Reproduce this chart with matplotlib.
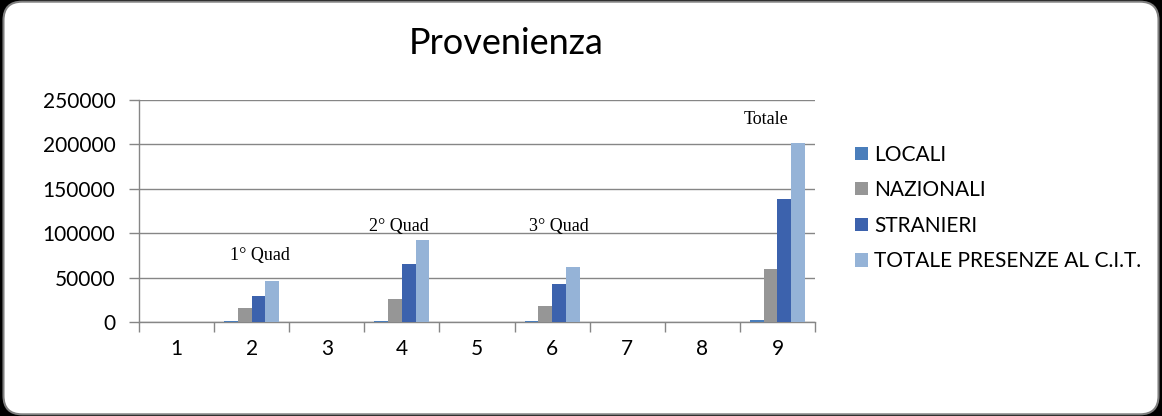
import matplotlib
matplotlib.use("Agg")
import matplotlib.pyplot as plt
import numpy as np
from matplotlib.patches import FancyBboxPatch
from matplotlib.ticker import FixedLocator, MultipleLocator

# categories along the x axis
CATEGORIES = ["1", "2", "3", "4", "5", "6", "7", "8", "9"]
# series values
LOCALI = [0, 1200, 0, 1300, 0, 1200, 0, 0, 2500]
NAZIONALI = [0, 16000, 0, 26000, 0, 18000, 0, 0, 60000]
STRANIERI = [0, 29500, 0, 65000, 0, 43000, 0, 0, 138500]
TOTALE = [0, 46500, 0, 92000, 0, 62000, 0, 0, 201500]
SERIES_NAMES = ["LOCALI", "NAZIONALI", "STRANIERI", "TOTALE PRESENZE AL C.I.T."]
# text notes above the groups: (label, category index, value)
NOTES = [("1° Quad", 1.11, 75000), ("2° Quad", 2.96, 107000),
         ("3° Quad", 5.09, 107000), ("Totale", 7.85, 228000)]

COLORS = ["#4a7ebb", "#969696", "#3c62ad", "#95b3d7"]
SANS = ["Lato", "DejaVu Sans"]
SERIF = ["Liberation Serif", "DejaVu Serif"]

fig = plt.figure(figsize=(11.62, 4.16), dpi=100, facecolor="black")

# rounded white card with a grey border
card = FancyBboxPatch((0.003, 0.004), 0.994, 0.992,
                      boxstyle="round,pad=0,rounding_size=0.016",
                      transform=fig.transFigure, facecolor="white",
                      edgecolor="#7f7f7f", linewidth=1.5,
                      mutation_aspect=11.62 / 4.16, zorder=-10)
fig.patches.append(card)

ax = fig.add_axes([0.1196, 0.226, 0.5818, 0.5337])
ax.set_facecolor("none")

x = np.arange(len(CATEGORIES))
width = 0.183
for i, (vals, name) in enumerate(zip([LOCALI, NAZIONALI, STRANIERI, TOTALE], SERIES_NAMES)):
    ax.bar(x + (i - 1.5) * width, vals, width, color=COLORS[i], label=name, zorder=3)

ax.set_xlim(-0.5, len(CATEGORIES) - 0.5)
ax.set_ylim(0, 250000)
ax.yaxis.set_major_locator(MultipleLocator(50000))
ax.grid(axis="y", color="#868686", linewidth=1, zorder=0)

ax.set_xticks(x)
ax.set_xticklabels(CATEGORIES)
ax.xaxis.set_minor_locator(FixedLocator(np.arange(-0.5, len(CATEGORIES), 1.0)))
ax.tick_params(axis="x", which="major", length=0, pad=12, labelsize=15)
ax.tick_params(axis="x", which="minor", length=7, color="#868686", width=1)
ax.tick_params(axis="y", length=7, color="#868686", width=1, labelsize=15, pad=10)
for lab in ax.get_xticklabels() + ax.get_yticklabels():
    lab.set_family(SANS)

for side in ["top", "right"]:
    ax.spines[side].set_visible(False)
for side in ["left", "bottom"]:
    ax.spines[side].set_color("#868686")
    ax.spines[side].set_linewidth(1)

for label, xi, yv in NOTES:
    ax.text(xi, yv, label, ha="center", va="center", fontsize=13,
            family=SERIF, zorder=4)

fig.text(0.436, 0.895, "Provenienza", ha="center", va="center",
         fontsize=26, family=SANS)

handles, labels = ax.get_legend_handles_labels()
leg = fig.legend(handles, labels, loc="center left", bbox_to_anchor=(0.72, 0.5),
                 frameon=False, prop={"family": SANS, "size": 15},
                 handlelength=0.6, handleheight=0.6, handletextpad=0.3,
                 labelspacing=0.75)

fig.savefig("out.png", dpi=100, facecolor="black")
